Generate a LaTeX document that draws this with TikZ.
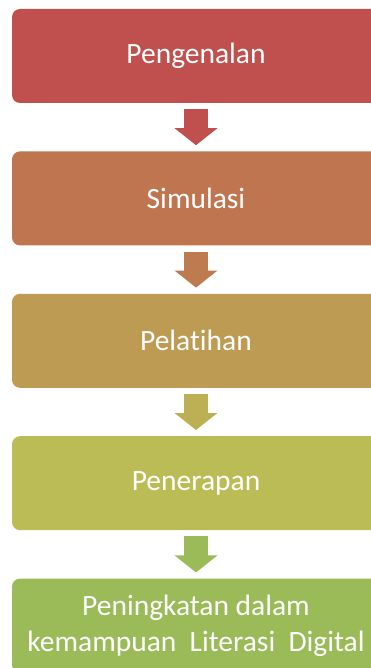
\documentclass[tikz,border=0pt]{standalone}
\usepackage{fontspec}
\setmainfont[Ligatures=NoCommon]{Carlito}
\usepackage{xcolor}
\usetikzlibrary{positioning,arrows.meta}

\definecolor{stepA}{HTML}{C0504D}
\definecolor{stepB}{HTML}{BF7650}
\definecolor{stepC}{HTML}{BE9B52}
\definecolor{stepD}{HTML}{BCBC57}
\definecolor{stepE}{HTML}{9BBB59}
\definecolor{arrB}{HTML}{BE7B4F}
\definecolor{arrC}{HTML}{BDB054}

\begin{document}
\begin{tikzpicture}[
  font=\fontsize{29.5}{35.5}\selectfont,
  node distance=48pt,
  stage/.style={rounded corners=8pt,align=center,inner sep=0pt,text=white,
    minimum width=368pt,minimum height=94pt},
  flow/.style={line width=24pt,shorten <=6pt,shorten >=6pt,
    -{Triangle[width=42pt,length=17pt]}}]
\useasboundingbox (0,0) rectangle (371pt,-668pt);
\node[stage,fill=stepA] (intro) at (196pt,-56pt) {Pengenalan};
\node[stage,below=of intro,fill=stepB] (sim) {Simulasi};
\node[stage,below=of sim,fill=stepC] (train) {Pelatihan};
\node[stage,below=of train,fill=stepD] (apply) {Penerapan};
\node[stage,below=of apply,fill=stepE] (gain) {\raisebox{-3pt}{\parbox{360pt}{\centering
  Peningkatan dalam\\kemampuan~~Literasi~~Digital}}};
\draw[flow,stepA] (intro) -- (sim);
\draw[flow,arrB] (sim) -- (train);
\draw[flow,arrC] (train) -- (apply);
\draw[flow,stepE] (apply) -- (gain);
\end{tikzpicture}
\end{document}
